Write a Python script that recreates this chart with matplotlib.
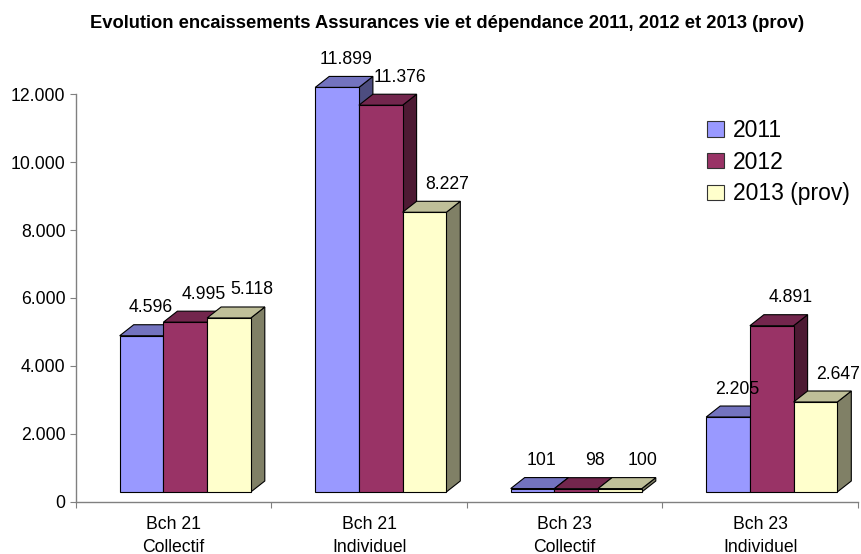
import matplotlib
matplotlib.use("Agg")
import matplotlib.pyplot as plt
from matplotlib.patches import Rectangle, Polygon, Patch
import numpy as np

categories = ["Bch 21\nCollectif", "Bch 21\nIndividuel", "Bch 23\nCollectif", "Bch 23\nIndividuel"]
series_names = ["2011", "2012", "2013 (prov)"]
values_2011 = [4596, 11899, 101, 2205]
values_2012 = [4995, 11376, 98, 4891]
values_2013 = [5118, 8227, 100, 2647]
yticks = [0, 2000, 4000, 6000, 8000, 10000, 12000]
title = "Evolution encaissements Assurances vie et dépendance 2011, 2012 et 2013 (prov)"

series = [values_2011, values_2012, values_2013]
front_cols = ["#9999FF", "#993366", "#FFFFCC"]
top_cols = ["#7373BF", "#73264D", "#BFBF99"]
side_cols = ["#4D4D80", "#4D1A33", "#808066"]
label_dx = [2, 12, 16]  # px, horizontal label shift per series

plt.rcParams['font.family'] = ['Liberation Sans', 'DejaVu Sans']
W, H = 862, 554
fig = plt.figure(figsize=(W / 100, H / 100), dpi=100)
ax = fig.add_axes([76 / W, 52 / H, 782 / W, 408 / H])
ax.set_xlim(-0.5, 3.5)
ax.set_ylim(0, 12000)

# pixel -> data conversions
px_x = (3.5 - (-0.5)) / 782.0
px_y = 12000 / 408.0
lift = 10 * px_y
ddx = 14 * px_x
ddy = 11 * px_y
bw = 43.7 * px_x
shift = 11.5 * px_x

for c in range(len(categories)):
    for s, vals in enumerate(series):
        v = vals[c]
        x0 = c - 1.5 * bw + shift + s * bw
        x1 = x0 + bw
        z = 10 + c * 10 + s * 3
        side = Polygon([(x1, lift), (x1 + ddx, lift + ddy), (x1 + ddx, lift + v + ddy), (x1, lift + v)],
                       closed=True, facecolor=side_cols[s], edgecolor="black", lw=0.8,
                       clip_on=False, zorder=z)
        top = Polygon([(x0, lift + v), (x1, lift + v), (x1 + ddx, lift + v + ddy), (x0 + ddx, lift + v + ddy)],
                      closed=True, facecolor=top_cols[s], edgecolor="black", lw=0.8,
                      clip_on=False, zorder=z + 1)
        front = Rectangle((x0, lift), bw, v, facecolor=front_cols[s], edgecolor="black", lw=0.8,
                          clip_on=False, zorder=z + 2)
        ax.add_patch(side)
        ax.add_patch(top)
        ax.add_patch(front)
        lbl = f"{v:,}".replace(",", ".")
        ax.annotate(lbl, xy=(x0 + bw / 2, lift + v), xytext=(7 + label_dx[s], 28),
                    textcoords="offset pixels", ha="center", va="center",
                    fontsize=12.7, color="black", zorder=100, annotation_clip=False)

for sp in ["top", "right"]:
    ax.spines[sp].set_visible(False)
for sp in ["left", "bottom"]:
    ax.spines[sp].set_color("#808080")
    ax.spines[sp].set_linewidth(1.0)

ax.set_yticks(yticks)
ax.set_yticklabels([f"{t:,}".replace(",", ".") for t in yticks], fontsize=12.7)
ax.tick_params(axis="y", direction="out", length=4.5, width=0.8, color="#808080", pad=3)
ax.set_xticks(range(len(categories)))
ax.set_xticklabels(categories, fontsize=12.7, linespacing=1.45)
ax.tick_params(axis="x", which="major", length=0, pad=10)
ax.set_xticks(np.arange(-0.5, 4.0, 1.0), minor=True)
ax.tick_params(axis="x", which="minor", direction="out", length=4.5, width=0.8, color="#808080")

handles = [Patch(facecolor=front_cols[i], edgecolor="#333333", lw=0.8) for i in range(3)]
fig.legend(handles, series_names, loc="upper left", bbox_to_anchor=(707 / W, 1 - 119 / H),
           frameon=False, fontsize=16.5, handlelength=0.74, handleheight=0.65,
           handletextpad=0.4, labelspacing=0.38, borderpad=0, borderaxespad=0)

fig.text(447 / W, 1 - 23 / H, title, ha="center", va="center", fontsize=13.2,
         fontweight="bold", family=["Liberation Sans", "DejaVu Sans"])

fig.savefig("out.png", dpi=100)
